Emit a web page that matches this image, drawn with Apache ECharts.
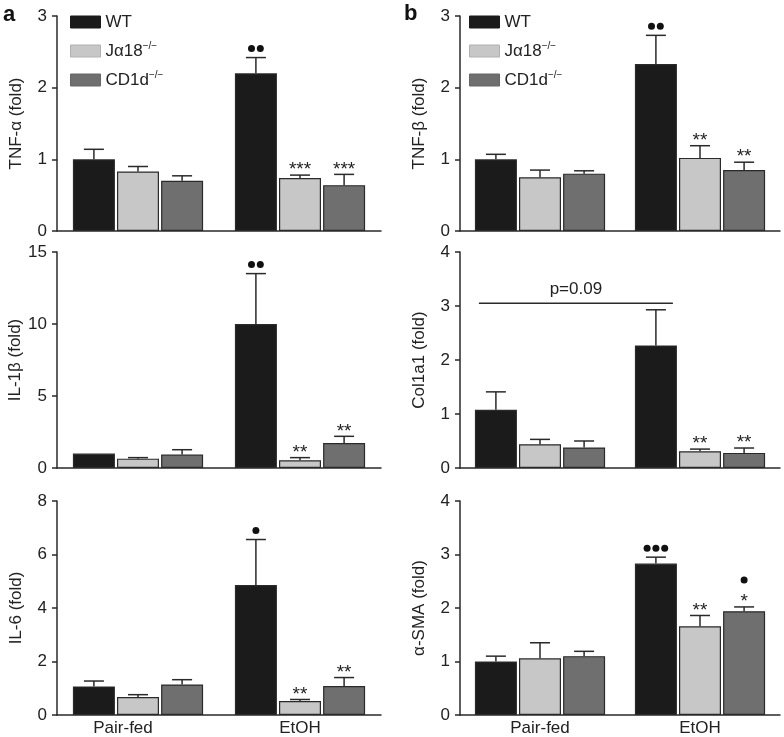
<!DOCTYPE html>
<html>
<head>
<meta charset="utf-8">
<script src="https://cdn.jsdelivr.net/npm/echarts@6/dist/echarts.min.js"></script>
<style>
html,body{margin:0;padding:0;background:#fff;}
#chart{width:784px;height:737px;}
</style>
</head>
<body>
<div id="chart"></div>
<script>
// ---------------- DATA ----------------
const categories = ['Pair-fed', 'EtOH'];
const groups = ['WT', 'J\u03b118\u2212/\u2212', 'CD1d\u2212/\u2212'];

// means: [genotype][category], sem: upper error bar length
const tnfAlphaMean = [[1.00, 2.20], [0.83, 0.74], [0.70, 0.64]];
const tnfAlphaSem  = [[0.14, 0.22], [0.07, 0.04], [0.07, 0.15]];
const tnfAlphaStars = [['', ''], ['', '***'], ['', '***']];
const tnfAlphaDots  = [['', '\u2022\u2022'], ['', ''], ['', '']];

const tnfBetaMean = [[1.00, 2.33], [0.75, 1.02], [0.80, 0.85]];
const tnfBetaSem  = [[0.07, 0.40], [0.10, 0.17], [0.04, 0.11]];
const tnfBetaStars = [['', ''], ['', '**'], ['', '**']];
const tnfBetaDots  = [['', '\u2022\u2022'], ['', ''], ['', '']];

const il1bMean = [[1.00, 10.0], [0.65, 0.53], [0.93, 1.74]];
const il1bSem  = [[0.00, 3.5], [0.07, 0.19], [0.34, 0.46]];
const il1bStars = [['', ''], ['', '**'], ['', '**']];
const il1bDots  = [['', '\u2022\u2022'], ['', ''], ['', '']];

const col1a1Mean = [[1.08, 2.27], [0.44, 0.31], [0.38, 0.28]];
const col1a1Sem  = [[0.33, 0.66], [0.09, 0.04], [0.12, 0.09]];
const col1a1Stars = [['', ''], ['', '**'], ['', '**']];
const col1a1Dots  = [['', ''], ['', ''], ['', '']];
const col1a1PLevel = 3.05;
const col1a1PText = 'p=0.09';

const il6Mean = [[1.07, 4.86], [0.67, 0.52], [1.14, 1.08]];
const il6Sem  = [[0.20, 1.70], [0.09, 0.06], [0.18, 0.32]];
const il6Stars = [['', ''], ['', '**'], ['', '**']];
const il6Dots  = [['', '\u2022'], ['', ''], ['', '']];

const smaMean = [[1.00, 2.83], [1.06, 1.66], [1.10, 1.94]];
const smaSem  = [[0.10, 0.12], [0.29, 0.20], [0.09, 0.08]];
const smaStars = [['', ''], ['', '**'], ['', '*']];
const smaDots  = [['', '\u2022\u2022\u2022'], ['', ''], ['', '\u2022']];

const yNames = ['TNF-\u03b1 (fold)', 'TNF-\u03b2 (fold)', 'IL-1\u03b2 (fold)', 'Col1a1 (fold)', 'IL-6 (fold)', '\u03b1-SMA (fold)'];
const yMax = [3, 3, 15, 4, 8, 4];
const yInterval = [1, 1, 5, 1, 2, 1];

// ---------------- STYLE / LAYOUT ----------------
const FONT = '"Liberation Sans", Arial, sans-serif';
const colors = ['#1b1b1b', '#c7c7c7', '#6f6f6f'];
const legendBorders = ['#1b1b1b', '#b0b0b0', '#666666'];
const gridLeft = [57, 460];
const gridWidth = [324, 320];
const rowTop = [16, 252, 501];
const rowHeight = [215, 216, 214];
const BAR_W = 42, BAR_STEP = 44.1;

const panels = [
  {mean: tnfAlphaMean, sem: tnfAlphaSem, stars: tnfAlphaStars, dots: tnfAlphaDots, col: 0, row: 0},
  {mean: tnfBetaMean, sem: tnfBetaSem, stars: tnfBetaStars, dots: tnfBetaDots, col: 1, row: 0},
  {mean: il1bMean, sem: il1bSem, stars: il1bStars, dots: il1bDots, col: 0, row: 1},
  {mean: col1a1Mean, sem: col1a1Sem, stars: col1a1Stars, dots: col1a1Dots, col: 1, row: 1, pLevel: col1a1PLevel, pText: col1a1PText},
  {mean: il6Mean, sem: il6Sem, stars: il6Stars, dots: il6Dots, col: 0, row: 2},
  {mean: smaMean, sem: smaSem, stars: smaStars, dots: smaDots, col: 1, row: 2}
];

const chart = echarts.init(document.getElementById('chart'), null, {renderer: 'canvas'});

const option = {
  animation: false,
  backgroundColor: '#ffffff',
  textStyle: {fontFamily: FONT},
  grid: [], xAxis: [], yAxis: [], series: [],
  legend: [0, 1].map(c => ({
    data: groups.map((g, i) => ({name: g, itemStyle: {color: colors[i], borderColor: legendBorders[i], borderWidth: 1}})),
    left: c === 0 ? 70 : 469,
    top: 12,
    padding: 0,
    orient: 'vertical',
    icon: 'rect',
    itemWidth: 30,
    itemHeight: 12,
    itemGap: 9,
    selectedMode: false,
    textStyle: {
      fontSize: 17, color: '#222', fontFamily: FONT, lineHeight: 20,
      rich: {sup: {fontSize: 10, fontFamily: FONT, color: '#222', verticalAlign: 'top', lineHeight: 20, padding: [0, 0, 8, 0]}}
    },
    formatter: name => name.replace('\u2212/\u2212', '{sup|\u2212/\u2212}')
  })),
  graphic: [
    {type: 'text', left: 3, top: 4, style: {text: 'a', font: 'bold 22px ' + FONT, fill: '#111'}},
    {type: 'text', left: 404, top: 3, style: {text: 'b', font: 'bold 22px ' + FONT, fill: '#111'}}
  ]
};

function makeRender(p) {
  return function (params, api) {
    const cat = api.value(0), mean = api.value(1), sem = api.value(2), gi = api.value(3);
    const base = api.coord([cat, mean]);
    const topP = api.coord([cat, mean + sem]);
    const x = base[0] + (gi - 1) * BAR_STEP;
    const ls = {stroke: '#2a2a2a', lineWidth: 1.5};
    const children = [];
    if (sem > 0) {
      children.push({type: 'line', shape: {x1: x, y1: base[1], x2: x, y2: topP[1]}, style: ls});
      children.push({type: 'line', shape: {x1: x - 10, y1: topP[1], x2: x + 10, y2: topP[1]}, style: ls});
    }
    const capY = sem > 0 ? topP[1] : base[1];
    let y;
    const st = p.stars[gi][cat];
    if (st) {
      children.push({type: 'text', x: x, y: capY - 5, style: {text: st, font: '19px ' + FONT, fill: '#222', align: 'center', verticalAlign: 'middle'}});
      y = capY - 27;
    } else {
      y = capY - 9;
    }
    const nd = p.dots[gi][cat].length;
    for (let d = 0; d < nd; d++) {
      const cx = x + (d - (nd - 1) / 2) * 8.8;
      children.push({type: 'circle', shape: {cx: cx, cy: y, r: 3.5}, style: {fill: '#111'}});
    }
    return {type: 'group', children: children};
  };
}

panels.forEach((p, k) => {
  option.grid.push({left: gridLeft[p.col], top: rowTop[p.row], width: gridWidth[p.col], height: rowHeight[p.row]});
  const xData = categories.map((c, ci) => (p.col === 0 && ci === 0) ? {value: c, textStyle: {padding: [0, 30, 0, 0]}} : c);
  option.xAxis.push({
    type: 'category', gridIndex: k, data: xData,
    axisTick: {show: false},
    axisLine: {lineStyle: {color: '#2a2a2a', width: 1.5}},
    axisLabel: {show: p.row === 2, fontSize: 17, color: '#222', fontFamily: FONT, margin: 5}
  });
  option.yAxis.push({
    type: 'value', gridIndex: k, min: 0, max: yMax[k], interval: yInterval[k],
    name: yNames[k], nameLocation: 'middle', nameGap: 32,
    nameTextStyle: {fontSize: 17, color: '#222', fontFamily: FONT},
    axisLine: {show: true, lineStyle: {color: '#2a2a2a', width: 1.5}},
    axisTick: {show: true, length: 5, lineStyle: {color: '#2a2a2a', width: 1.5}},
    axisLabel: {fontSize: 17, color: '#222', fontFamily: FONT, margin: 10},
    splitLine: {show: false}
  });
  groups.forEach((g, i) => {
    option.series.push({
      type: 'bar', name: g, xAxisIndex: k, yAxisIndex: k,
      data: p.mean[i], barWidth: BAR_W, barGap: '5%',
      itemStyle: {color: colors[i], borderColor: '#2a2a2a', borderWidth: 1.2}
    });
  });
  const errData = [];
  groups.forEach((g, i) => categories.forEach((c, ci) => errData.push([ci, p.mean[i][ci], p.sem[i][ci], i])));
  option.series.push({
    type: 'custom', xAxisIndex: k, yAxisIndex: k, data: errData, z: 5, clip: false,
    renderItem: makeRender(p), silent: true
  });
  if (p.pLevel !== undefined) {
    option.series.push({
      type: 'custom', xAxisIndex: k, yAxisIndex: k, data: [[0, p.pLevel]], z: 5, clip: false, silent: true,
      renderItem: function (params, api) {
        const a = api.coord([0, api.value(1)]);
        const b = api.coord([1, api.value(1)]);
        const x1 = a[0] - BAR_STEP - 17, x2 = b[0] - BAR_STEP + 17;
        return {type: 'group', children: [
          {type: 'line', shape: {x1: x1, y1: a[1], x2: x2, y2: a[1]}, style: {stroke: '#2a2a2a', lineWidth: 1.5}},
          {type: 'text', x: (x1 + x2) / 2, y: a[1] - 14, style: {text: p.pText, font: '17px ' + FONT, fill: '#222', align: 'center', verticalAlign: 'middle'}}
        ]};
      }
    });
  }
});

chart.setOption(option);
</script>
</body>
</html>
